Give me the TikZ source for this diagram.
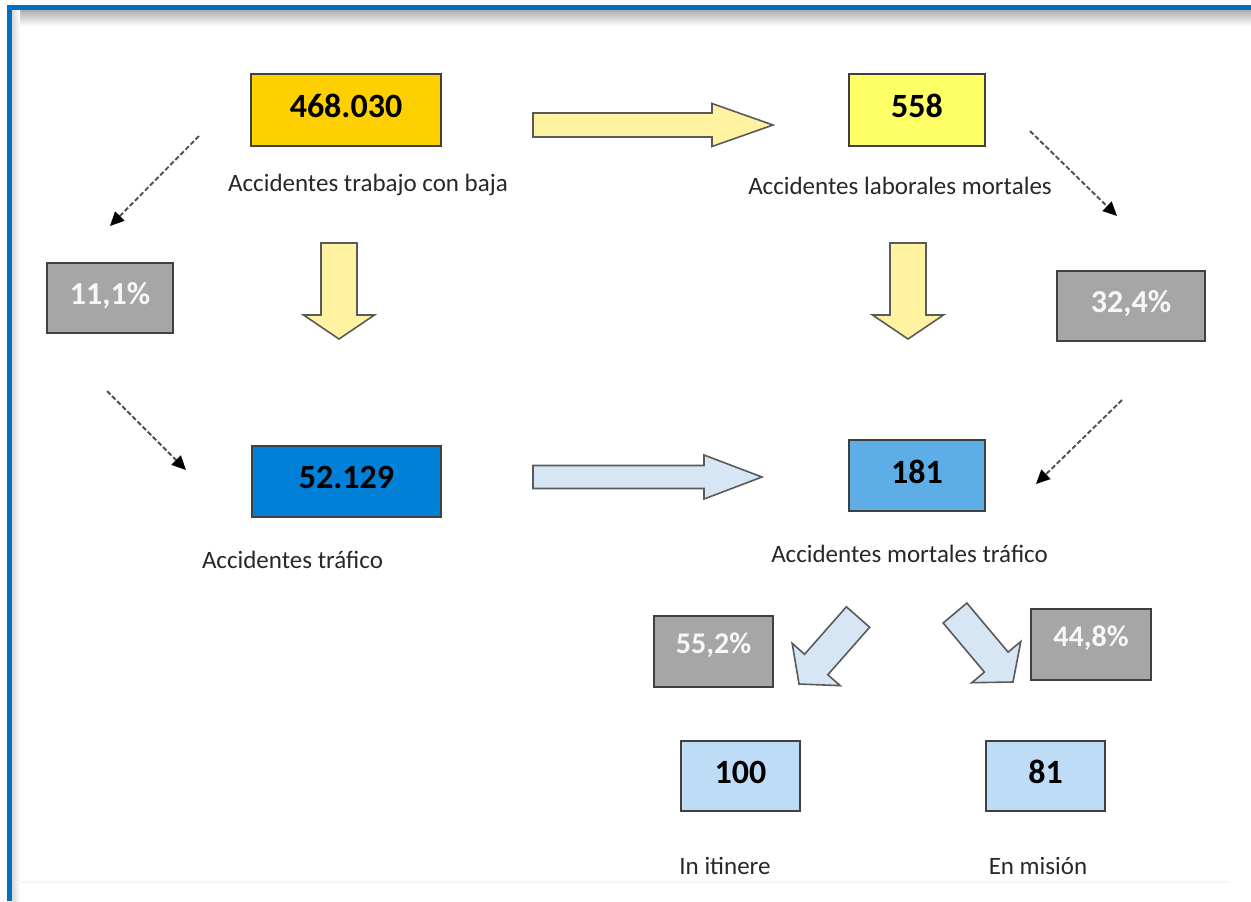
\documentclass[tikz,border=0pt]{standalone}
\usepackage{fontspec}
\setmainfont{Carlito}
\usetikzlibrary{calc,arrows.meta}
\definecolor{frameblue}{RGB}{0,112,192}
\definecolor{gold}{RGB}{255,208,0}
\definecolor{lightyel}{RGB}{255,255,102}
\definecolor{arrowyel}{RGB}{255,242,160}
\definecolor{darkblue}{RGB}{0,128,215}
\definecolor{midblue}{RGB}{93,173,230}
\definecolor{paleblue}{RGB}{190,220,245}
\definecolor{arrowblue}{RGB}{214,230,244}
\definecolor{boxgray}{RGB}{166,166,166}
\definecolor{edgegray}{RGB}{64,64,64}
\definecolor{arredge}{RGB}{90,90,90}
\definecolor{lbltext}{RGB}{40,40,40}
\definecolor{dashgray}{RGB}{80,80,80}
\newcommand{\blockarr}[6]{%
  \coordinate (bt) at (#1);
  \coordinate (bp) at (#2);
  \coordinate (bh) at ($(bp)!#5!(bt)$);
  \draw[#6] ($(bt)!#3!90:(bp)$) -- ($(bh)!#3!90:(bp)$) -- ($(bh)!#4!90:(bp)$) -- (bp)
    -- ($(bh)!#4!-90:(bp)$) -- ($(bh)!#3!-90:(bp)$) -- ($(bt)!#3!-90:(bp)$) -- cycle;}
\begin{document}
\begin{tikzpicture}[x=0.5pt,y=-0.5pt,
  numbox/.style={draw=edgegray,line width=1pt,inner sep=0pt,text depth=4pt,
    font=\fontsize{17}{20}\selectfont\bfseries,text=black},
  pctbox/.style={draw=edgegray,line width=1pt,fill=boxgray,inner sep=0pt,
    font=\fontsize{16}{19}\selectfont\bfseries,text=white!97!black},
  lbl/.style={anchor=base,inner sep=0pt,font=\fontsize{12.5}{15}\selectfont,text=lbltext},
  dasharr/.style={draw=dashgray,line width=0.95pt,dash pattern=on 2.4pt off 1.2pt,
    -{Triangle[length=7pt,width=6.5pt,color=black]}},
  yarrow/.style={draw=arredge,line width=0.8pt,fill=arrowyel,line join=miter},
  barrow/.style={draw=arredge,line width=0.8pt,fill=arrowblue,line join=miter}]
\useasboundingbox (0,0) rectangle (1251,901);
\fill[white] (0,0) rectangle (1251,901);
% frame
\shade[top color=black!32,bottom color=white] (12,10) rectangle (1251,26);
\shade[left color=black!15,right color=white] (12,10) rectangle (20,901);
\fill[frameblue] (7,5) rectangle (1251,10);
\fill[frameblue] (7,5) rectangle (12,901);
\draw[color=blue!4!white,line width=1pt] (15,882) -- (1230,882);
% boxes
\node[numbox,fill=gold,minimum width=95pt,minimum height=36pt] (b468) at (346,110) {468.030};
\node[numbox,fill=lightyel,minimum width=68pt,minimum height=36pt] (b558) at (917,110) {558};
\node[pctbox,minimum width=63pt,minimum height=35pt,text depth=5pt] (p111) at (110,298) {11,1\%};
\node[pctbox,minimum width=74pt,minimum height=35pt,text depth=5pt] (p324) at (1131,306) {32,4\%};
\node[numbox,fill=darkblue,minimum width=94.5pt,minimum height=35.5pt] (b52) at (346.5,481.5) {52.129};
\node[numbox,fill=midblue,minimum width=68pt,minimum height=35.5pt] (b181) at (917,475.5) {181};
\node[pctbox,minimum width=59.5pt,minimum height=35.5pt,text depth=8pt,font=\fontsize{15}{18}\selectfont\bfseries] (p552) at (713.5,651.5) {55,2\%};
\node[pctbox,minimum width=60pt,minimum height=35.5pt,text depth=8pt,font=\fontsize{15}{18}\selectfont\bfseries] (p448) at (1091,644.5) {44,8\%};
\node[numbox,fill=paleblue,minimum width=59.5pt,minimum height=35pt] (b100) at (740.5,776) {100};
\node[numbox,fill=paleblue,minimum width=59.5pt,minimum height=35pt] (b81) at (1045.5,776) {81};
% labels
\node[lbl] (l1) at (368,191) {Accidentes trabajo con baja};
\node[lbl] (l2) at (900,194) {Accidentes laborales mortales};
\node[lbl] (l3) at (292.5,568) {Accidentes tráfico};
\node[lbl] (l4) at (909.5,562) {Accidentes mortales tráfico};
\node[lbl] (l5) at (725,874) {In itinere};
\node[lbl] (l6) at (1038,874) {En misión};
% block arrow end points
\coordinate (ya1s) at (533,125); \coordinate (ya1e) at (773,125);
\coordinate (ya2s) at (339,243); \coordinate (ya2e) at (339,339);
\coordinate (ya3s) at (908,243); \coordinate (ya3e) at (908,339);
\coordinate (ba1s) at (533,477); \coordinate (ba1e) at (762,477);
\coordinate (ba2s) at (858,617); \coordinate (ba2e) at (799,684);
\coordinate (ba3s) at (955,613); \coordinate (ba3e) at (1013,682);
\blockarr{ya1s}{ya1e}{6pt}{10.75pt}{30.5pt}{yarrow}
\blockarr{ya2s}{ya2e}{9pt}{17.75pt}{12pt}{yarrow}
\blockarr{ya3s}{ya3e}{9pt}{17.75pt}{12pt}{yarrow}
\blockarr{ba1s}{ba1e}{5.75pt}{11pt}{29pt}{barrow}
\blockarr{ba2s}{ba2e}{7.75pt}{16pt}{13pt}{barrow}
\blockarr{ba3s}{ba3e}{7.75pt}{16pt}{13pt}{barrow}
% dashed arrows
\coordinate (d1s) at (199,136); \coordinate (d1e) at (110,226);
\coordinate (d2s) at (107,391); \coordinate (d2e) at (186,470);
\coordinate (d3s) at (1030,131); \coordinate (d3e) at (1117,216);
\coordinate (d4s) at (1122,400); \coordinate (d4e) at (1036,484);
\draw[dasharr] (d1s) -- (d1e);
\draw[dasharr] (d2s) -- (d2e);
\draw[dasharr] (d3s) -- (d3e);
\draw[dasharr] (d4s) -- (d4e);
\end{tikzpicture}
\end{document}
